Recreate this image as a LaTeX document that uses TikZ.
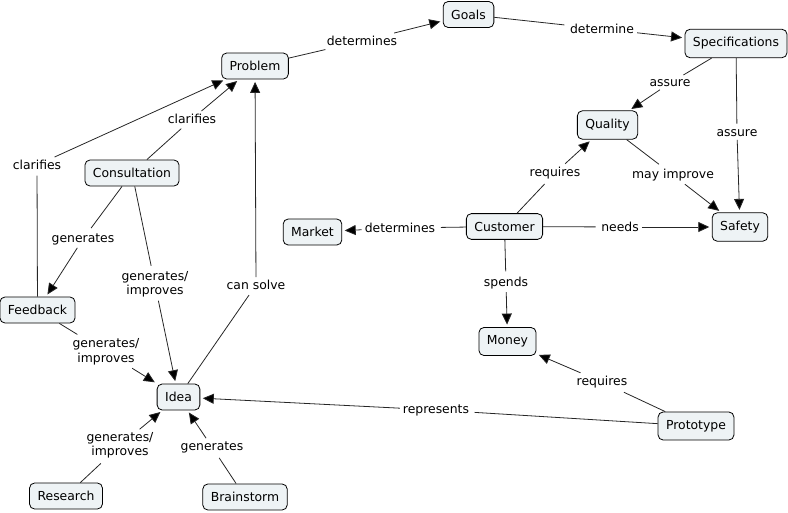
\documentclass[tikz,border=0pt]{standalone}
\usepackage{fontspec}
\setmainfont{DejaVu Sans}
\usetikzlibrary{arrows.meta}
\definecolor{conceptfill}{HTML}{EEF3F5}
\definecolor{linkgray}{HTML}{262626}

\begin{document}
\begin{tikzpicture}[x=1pt,y=-1pt,>={Triangle[length=11pt,width=10pt,fill=black]},
	concept/.style={draw=black,fill=conceptfill,rounded corners=5pt,line width=0.8pt,
		inner xsep=8pt,inner ysep=8.2pt,font=\fontsize{12.4}{14}\selectfont},
	linkword/.style={fill=white,inner sep=3pt,align=center,font=\fontsize{12.4}{14.5}\selectfont},
	link/.style={draw=linkgray,line width=0.8pt,shorten >=2.5pt}]
	
	\useasboundingbox (0,0) rectangle (788,512);
	
	% Draw the concepts
	\node[concept] (problem) at (255,66) {Problem};
	\node[concept] (goals) at (468.5,14.5) {Goals};
	\node[concept] (specs) at (736,43.5) {Specifications};
	\node[concept] (quality) at (607.5,125) {Quality};
	\node[concept] (safety) at (740,227) {Safety};
	\node[concept] (customer) at (504.5,226.5) {Customer};
	\node[concept] (market) at (312.5,232) {Market};
	\node[concept] (consult) at (132,173) {Consultation};
	\node[concept] (feedback) at (37.5,310) {Feedback};
	\node[concept] (idea) at (178.5,397) {Idea};
	\node[concept] (research) at (66,496) {Research};
	\node[concept] (brainstorm) at (245,497) {Brainstorm};
	\node[concept] (money) at (507.5,341.5) {Money};
	\node[concept] (prototype) at (696,426) {Prototype};
	
	% Draw the linking words
	\node[linkword] (ldetprob) at (362,41) {determines};
	\node[linkword] (ldetgoals) at (602,29) {determine};
	\node[linkword] (lassq) at (670,83) {assure};
	\node[linkword] (lasss) at (737,133) {assure};
	\node[linkword] (lreqq) at (555,173) {requires};
	\node[linkword] (lmay) at (673,175) {may improve};
	\node[linkword] (lneeds) at (620,227) {needs};
	\node[linkword] (ldetcust) at (400,228) {determines};
	\node[linkword] (lspends) at (506,283) {spends};
	\node[linkword] (lreqm) at (602,382) {requires};
	\node[linkword] (lrep) at (436,410) {represents};
	\node[linkword] (lsolve) at (256,285) {can solve};
	\node[linkword] (lgencons) at (155,284.5) {generates/\\improves};
	\node[linkword] (lgenfb) at (83,239) {generates};
	\node[linkword] (lclarcons) at (192,119) {clarifies};
	\node[linkword] (lclarfb) at (37,165) {clarifies};
	\node[linkword] (lgenfbi) at (106,352) {generates/\\improves};
	\node[linkword] (lgenres) at (120,445.5) {generates/\\improves};
	\node[linkword] (lgenbrain) at (212,447) {generates};
	
	% Draw the propositions
	\draw[link] (problem) -- (ldetprob);
	\draw[link,->] (ldetprob) -- (goals);
	\draw[link] (goals) -- (ldetgoals);
	\draw[link,->] (ldetgoals) -- (specs);
	\draw[link] (specs) -- (lassq);
	\draw[link,->] (lassq) -- (quality);
	\draw[link] (specs) -- (lasss);
	\draw[link,->] (lasss) -- (safety);
	\draw[link] (customer) -- (lreqq);
	\draw[link,->] (lreqq) -- (quality);
	\draw[link] (quality) -- (lmay);
	\draw[link,->] (lmay) -- (safety);
	\draw[link] (customer) -- (lneeds);
	\draw[link,->] (lneeds) -- (safety);
	\draw[link] (customer) -- (ldetcust);
	\draw[link,->] (ldetcust) -- (market);
	\draw[link] (customer) -- (lspends);
	\draw[link,->] (lspends) -- (money);
	\draw[link] (prototype) -- (lreqm);
	\draw[link,->] (lreqm) -- (money);
	\draw[link] (prototype) -- (lrep);
	\draw[link,->] (lrep) -- (idea);
	\draw[link] (idea) -- (lsolve);
	\draw[link,->] (lsolve) -- (problem);
	\draw[link] (consult) -- (lgencons);
	\draw[link,->] (lgencons) -- (idea);
	\draw[link] (consult) -- (lgenfb);
	\draw[link,->] (lgenfb) -- (feedback);
	\draw[link] (consult) -- (lclarcons);
	\draw[link,->] (lclarcons) -- (problem);
	\draw[link] (feedback) -- (lclarfb);
	\draw[link,->] (lclarfb) -- (problem);
	\draw[link] (feedback) -- (lgenfbi);
	\draw[link,->] (lgenfbi) -- (idea);
	\draw[link] (research) -- (lgenres);
	\draw[link,->] (lgenres) -- (idea);
	\draw[link] (brainstorm) -- (lgenbrain);
	\draw[link,->] (lgenbrain) -- (idea);

\end{tikzpicture}
\end{document}
